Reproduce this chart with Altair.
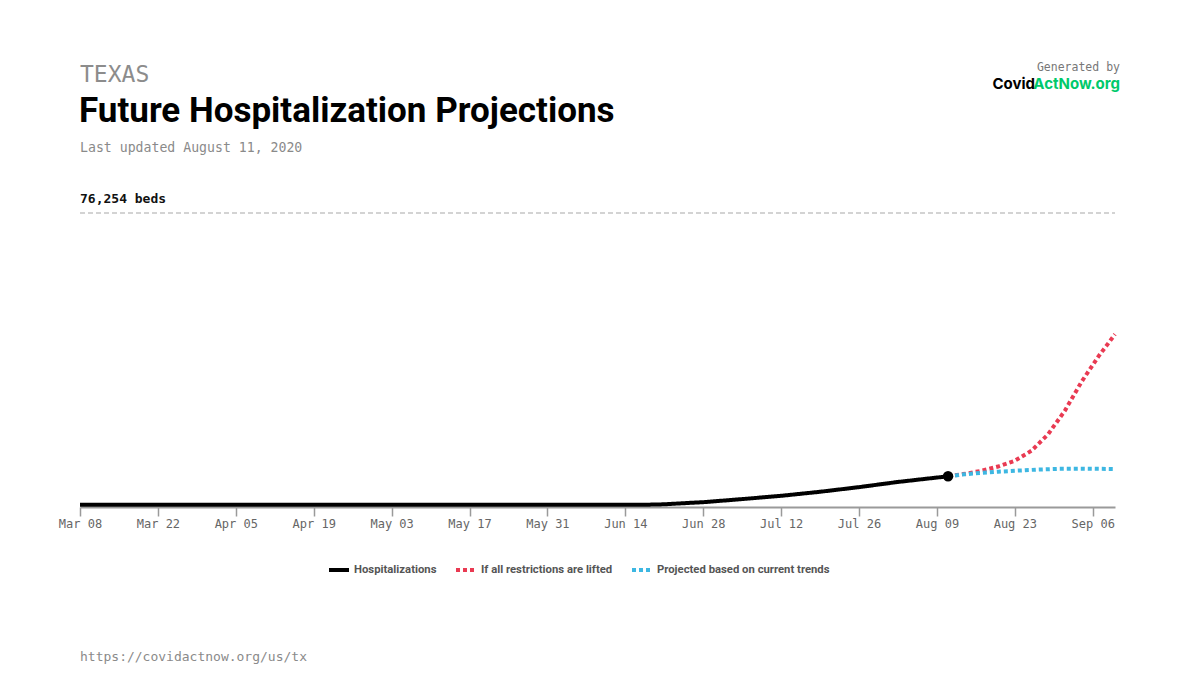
import altair as alt
import pandas as pd

# ---- data ----
series_names = ["Hospitalizations", "If all restrictions are lifted", "Projected based on current trends"]
capacity_name = "ICU/hospital beds"
series_colors = ["#000000", "#e93a52", "#3db7e2"]
series_dashes = [[1, 0], [4, 3], [4, 3]]

hosp_dates = ["2020-03-08", "2020-03-22", "2020-04-05", "2020-04-19", "2020-05-03", "2020-05-17",
              "2020-05-31", "2020-06-14", "2020-06-18", "2020-06-21", "2020-06-24", "2020-06-28",
              "2020-07-05", "2020-07-12", "2020-07-19", "2020-07-26", "2020-08-02", "2020-08-11"]
hosp_values = [600, 600, 600, 600, 600, 600, 600, 600, 600, 700, 950, 1250,
               2050, 2900, 3950, 5150, 6500, 7960]

lifted_dates = ["2020-08-11", "2020-08-14", "2020-08-17", "2020-08-20", "2020-08-23", "2020-08-26",
                "2020-08-29", "2020-09-01", "2020-09-04", "2020-09-07", "2020-09-10"]
lifted_values = [7960, 8600, 9400, 10500, 12000, 14600, 18900, 25000, 32500, 39000, 44800]

trend_dates = ["2020-08-11", "2020-08-14", "2020-08-17", "2020-08-20", "2020-08-23", "2020-08-27",
               "2020-08-31", "2020-09-04", "2020-09-07", "2020-09-10"]
trend_values = [7960, 8500, 8850, 9150, 9400, 9700, 9900, 9950, 9900, 9850]

beds_capacity = 76254
x_start, x_end = "2020-03-08", "2020-09-10"
tick_dates = ["2020-03-08", "2020-03-22", "2020-04-05", "2020-04-19", "2020-05-03", "2020-05-17",
              "2020-05-31", "2020-06-14", "2020-06-28", "2020-07-12", "2020-07-26", "2020-08-09",
              "2020-08-23", "2020-09-06"]

state_label = "TEXAS"
title_text = "Future Hospitalization Projections"
updated_text = "Last updated August 11, 2020"
footer_text = "https://covidactnow.org/us/tx"


def ms(d):
    return int(pd.Timestamp(d, tz="UTC").value // 10**6)


rows = []
for name, dates, vals in [(series_names[0], hosp_dates, hosp_values),
                          (series_names[1], lifted_dates, lifted_values),
                          (series_names[2], trend_dates, trend_values),
                          (capacity_name, [x_start, x_end], [beds_capacity, beds_capacity])]:
    for d, v in zip(dates, vals):
        rows.append({"date": ms(d), "value": v, "series": name})
df = pd.DataFrame(rows)
dot_df = pd.DataFrame({"date": [ms(hosp_dates[-1])], "value": [hosp_values[-1]]})
beds_df = pd.DataFrame({"label": [f"{beds_capacity:,} beds"]})

all_series = series_names + [capacity_name]

W, H = 1035, 294
x_scale = alt.Scale(type="utc", domain=[ms(x_start), ms(x_end)], nice=False)
y_scale = alt.Scale(domain=[0, beds_capacity], nice=False, zero=True)

x_axis = alt.Axis(
    values=[ms(d) for d in tick_dates],
    format="%b %d", formatType="utc", title=None, grid=False, labelFlush=False,
    labelFont="DejaVu Sans Mono", labelFontSize=12, labelColor="#666666",
    domainColor="#9a9a9a", domainWidth=2, tickColor="#9a9a9a", tickWidth=1.5,
    tickSize=9, labelPadding=2,
)

lines = alt.Chart(df).mark_line().encode(
    x=alt.X("date:T", scale=x_scale, axis=x_axis),
    y=alt.Y("value:Q", scale=y_scale, axis=None),
    color=alt.Color("series:N", title=None,
                    scale=alt.Scale(domain=all_series, range=series_colors + ["#a8a8a8"]),
                    legend=alt.Legend(orient="none", legendX=247, legendY=345, direction="horizontal",
                                      values=series_names,
                                      symbolType="stroke", symbolSize=400, symbolStrokeWidth=4,
                                      labelFont="Roboto", labelFontSize=11.3, labelFontWeight="bold",
                                      labelColor="#555555", columnPadding=11, labelOffset=3,
                                      labelLimit=300)),
    strokeDash=alt.StrokeDash("series:N", title=None,
                              scale=alt.Scale(domain=all_series, range=series_dashes + [[5, 3]]),
                              legend=alt.Legend(values=series_names)),
    strokeWidth=alt.StrokeWidth("series:N",
                                scale=alt.Scale(type="ordinal", domain=all_series, range=[4, 4, 4, 1.2]),
                                legend=None),
)

dot = alt.Chart(dot_df).mark_circle(size=110, color="#000000", opacity=1).encode(
    x=alt.X("date:T", scale=x_scale), y=alt.Y("value:Q", scale=y_scale)
)

beds_text = alt.Chart(beds_df).mark_text(
    align="left", baseline="alphabetic", font="DejaVu Sans Mono", fontSize=13, fontWeight="bold",
    color="#111111"
).encode(text="label:N", x=alt.value(0), y=alt.value(-10))


def txt(s, x, y, **kw):
    return alt.Chart(pd.DataFrame({"t": [s]})).mark_text(baseline="alphabetic", **kw).encode(
        text="t:N", x=alt.value(x), y=alt.value(y))


texts = [
    txt(state_label, 0, -131, align="left", font="DejaVu Sans Mono", fontSize=23, color="#8c8c8c"),
    txt(title_text, -1, -91, align="left", font="Roboto", fontSize=35, fontWeight="bold", color="#000000"),
    txt(updated_text, 0, -61, align="left", font="DejaVu Sans Mono", fontSize=13.2, color="#8a8a8a"),
    txt("Generated by", 1040, -142, align="right", font="DejaVu Sans Mono", fontSize=11.5, color="#777777"),
    txt("ActNow.org", 1040, -124, align="right", font="Inter", fontSize=15, fontWeight="bold", color="#00c96b"),
    txt("Covid", 955, -124, align="right", font="Inter", fontSize=15, fontWeight="bold", color="#000000"),
    txt(footer_text, 0, 448, align="left", font="DejaVu Sans Mono", fontSize=13, color="#8a8a8a"),
]

chart = alt.layer(lines, dot, beds_text, *texts).properties(
    width=W, height=H,
    padding={"left": 50, "top": 54, "right": 10, "bottom": 5},
).configure_view(stroke=None)

chart.save("out.html", embed_options={"renderer": "svg", "actions": False})
